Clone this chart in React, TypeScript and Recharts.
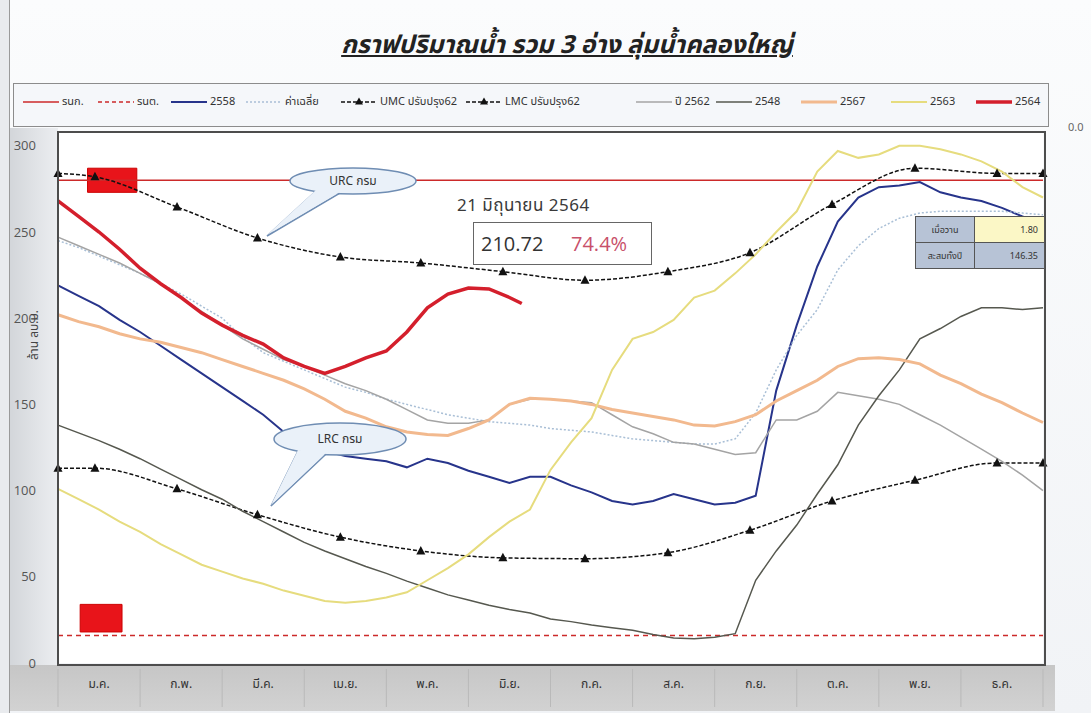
import React from 'react';
import { LineChart, Line, XAxis, YAxis, ReferenceLine, ReferenceArea } from 'recharts';

const W = 1091;
const H = 713;
const MARGIN = { top: 132, right: 48, bottom: 0, left: 0 };
const Y_AXIS_W = 58;
const X_AXIS_H = 50;
const PLOT_W = W - MARGIN.right - Y_AXIS_W;
const MONTH_W = PLOT_W / 12;
const THAI = '"Noto Sans Thai", "Loma", "Garuda", "Tahoma", "Noto Sans", sans-serif';

const monthLabels = ['ม.ค.', 'ก.พ.', 'มี.ค.', 'เม.ย.', 'พ.ค.', 'มิ.ย.', 'ก.ค.', 'ส.ค.', 'ก.ย.', 'ต.ค.', 'พ.ย.', 'ธ.ค.'];
const yTicks = [0, 50, 100, 150, 200, 250, 300];

// months from 1 ม.ค. (0) to 31 ธ.ค. (12), read every quarter month
const gridMonths = Array.from({ length: 49 }, (_, i) => i / 4);
const months2564 = [0, 0.25, 0.5, 0.75, 1, 1.25, 1.5, 1.75, 2, 2.25, 2.5, 2.75, 3, 3.25, 3.5, 3.75, 4, 4.25, 4.5, 4.75, 5, 5.25, 5.5, 5.65];
const markerMonths = [0, 0.45, 1.45, 2.43, 3.44, 4.42, 5.42, 6.42, 7.43, 8.43, 9.43, 10.44, 11.44, 12];

// ล้าน ลบ.ม.
const upperRule = 280;
const lowerRule = 16;
const v2558 = [219, 213, 207, 199, 192, 184, 176, 168, 160, 152, 144, 134, 128, 123, 120, 118.5, 117, 113.5, 118.5, 116, 111.5, 108, 104.5, 108, 108, 103, 99, 94, 92, 94, 98, 95, 92, 93, 97, 158, 196, 230, 256, 270, 276, 277, 279, 273, 270, 268, 264, 259, 255];
const vAvg = [245, 241, 236, 231, 226, 220, 214, 207, 200, 189, 180, 175, 170, 165, 160, 157, 153, 150, 147, 144, 142, 140, 139, 138, 136, 135, 134, 132, 130, 129, 128, 127, 127, 130, 145, 170, 190, 205, 228, 242, 252, 258, 261, 262, 262, 262, 262, 261, 260];
const vUmc = [284, 282, 264.5, 246.5, 235.5, 232, 227, 222, 227, 238, 266, 287, 284, 284];
const vLmc = [113, 113, 101, 86, 73, 65, 61, 60.5, 64, 77, 94, 106, 116, 116];
const v2562 = [247, 242, 237, 232, 226, 220, 212, 204, 196, 188, 182, 176, 172, 167, 162, 158, 153, 147, 141, 139, 139, 141, 150, 153, 153, 152, 151, 144, 137, 133, 128, 127, 124, 121, 122, 141, 141, 146, 157, 155, 153, 150, 144, 138, 131, 124, 117, 109, 100];
const v2548 = [138, 133.5, 129, 124, 118.5, 112.5, 106.5, 100.5, 95, 88, 82, 76, 70, 65, 60.5, 56, 52, 47.5, 43.5, 39.5, 36.5, 33.5, 31, 29, 25.5, 24, 22, 20.5, 19, 16.5, 14.5, 14, 15, 17, 48, 65, 80, 98, 115, 138, 155, 170, 188, 194, 201, 206, 206, 205, 206];
const v2567 = [202, 198, 195, 191, 188, 186, 183, 180, 176, 172, 168, 164, 159, 153, 146, 142, 137, 134, 132.5, 132, 136, 141, 150, 153.5, 153, 152, 150, 147, 145, 143, 141, 138, 137.5, 140, 144, 152, 158, 164, 172, 176.5, 177, 176, 173.5, 167, 162, 156, 151, 145, 139.5];
const v2563 = [101, 95, 89, 82, 76, 69, 63, 57, 53, 49, 46, 42, 39, 36, 35, 36, 38, 41, 48, 55, 63, 73, 82, 89, 112, 128, 142, 170, 188, 192, 199, 212, 216, 226, 237, 250, 262, 285, 297, 293, 295, 300, 300, 298, 295, 291, 285, 276, 270];
const v2564 = [268, 259, 250, 240, 229, 220, 212, 203, 196, 190, 185, 177, 172, 168, 172, 177, 181, 192, 206, 214, 217.5, 217, 212, 208.5];

// red marker boxes near the rule lines
const upperBox = { x1: 0.36, x2: 0.96, y1: 273, y2: 287 };
const lowerBox = { x1: 0.27, x2: 0.78, y1: 18, y2: 34 };

const toPts = (ms: number[], vs: number[]) => ms.map((m, i) => ({ m, v: vs[i] }));

const Triangle = (props: any) => {
  const { cx, cy, index } = props;
  if (cx == null || cy == null) return <g key={index} />;
  return <path key={index} d={`M${cx},${cy - 5}L${cx + 4.5},${cy + 3.5}L${cx - 4.5},${cy + 3.5}Z`} fill="#111" />;
};

const series = [
  { name: '2558', data: toPts(gridMonths, v2558), color: '#27348b', width: 2 },
  { name: 'ค่าเฉลี่ย', data: toPts(gridMonths, vAvg), color: '#a9bfd6', width: 1.5, dash: '2 2' },
  { name: 'UMC ปรับปรุง62', data: toPts(markerMonths, vUmc), color: '#111', width: 1.5, dash: '4 2', marker: true },
  { name: 'LMC ปรับปรุง62', data: toPts(markerMonths, vLmc), color: '#111', width: 1.5, dash: '4 2', marker: true },
  { name: 'ปี 2562', data: toPts(gridMonths, v2562), color: '#a4a4a4', width: 1.5 },
  { name: '2548', data: toPts(gridMonths, v2548), color: '#56584f', width: 1.5 },
  { name: '2567', data: toPts(gridMonths, v2567), color: '#f2b98e', width: 3 },
  { name: '2563', data: toPts(gridMonths, v2563), color: '#e6dc7e', width: 2 },
  { name: '2564', data: toPts(months2564, v2564), color: '#d41f2c', width: 3.5 },
];

const legendItems = [
  { name: 'รนก.', color: '#cc2a2a', width: 1.5 },
  { name: 'รนต.', color: '#cc2a2a', width: 1.5, dash: '4 3' },
  ...series,
];
const legendSlots = [75, 73, 75, 95, 125, 170, 80, 85, 90, 85, 70];

const MonthTick = (props: any) => {
  const { x, y, payload } = props;
  const i = Math.floor(payload.value);
  return (
    <g>
      <line x1={x - MONTH_W / 2} x2={x - MONTH_W / 2} y1={y - 2} y2={y + 36} stroke="#b9b9b9" />
      {i === 11 && <line x1={x + MONTH_W / 2} x2={x + MONTH_W / 2} y1={y - 2} y2={y + 36} stroke="#b9b9b9" />}
      <text x={x} y={y} dy={17} textAnchor="middle" fill="#333" fontSize={12} fontFamily={THAI}>
        {monthLabels[i]}
      </text>
    </g>
  );
};

const Callout = ({ cx, cy, rx, ry, tail, label }: any) => {
  const pts = tail.map((p: number[]) => p.join(',')).join(' ');
  return (
    <g>
      <polygon points={pts} fill="#eaf1f9" stroke="#6f8db3" strokeWidth={1.5} />
      <ellipse cx={cx} cy={cy} rx={rx} ry={ry} fill="#eaf1f9" stroke="#6f8db3" strokeWidth={1.5} />
      <polygon points={pts} fill="#eaf1f9" transform={`translate(0,-1)`} />
      <text x={cx} y={cy} dy={4} textAnchor="middle" fontSize={12} fill="#333" fontFamily={THAI}>
        {label}
      </text>
    </g>
  );
};

export default function App() {
  const plotTop = MARGIN.top;
  const plotBottom = H - X_AXIS_H;
  return (
    <div
      style={{
        position: 'relative',
        width: W,
        height: H,
        overflow: 'hidden',
        background: 'linear-gradient(180deg, #fbfcfd 0%, #f1f3f6 100%)',
        fontFamily: THAI,
      }}
    >
      <style>{'body{margin:0}'}</style>
      <div style={{ position: 'absolute', left: 0, top: 0, width: 9, height: H, background: '#e9ebee', borderRight: '1px solid #9a9a9a' }} />
      <div
        style={{
          position: 'absolute',
          left: 10,
          top: plotTop - 4,
          width: Y_AXIS_W - 10,
          height: plotBottom - plotTop + 6,
          background: 'linear-gradient(90deg, #d3d6da 0%, #eceef1 100%)',
        }}
      />
      <div style={{ position: 'absolute', left: 10, top: plotBottom + 2, width: 1045, height: 46, background: 'linear-gradient(180deg, #c6c6c6 0%, #d2d2d2 100%)' }} />
      <div style={{ position: 'absolute', left: Y_AXIS_W, top: plotTop, width: PLOT_W, height: plotBottom - plotTop, background: '#fff' }} />

      <div
        style={{
          position: 'absolute',
          left: 267,
          top: 26,
          width: 600,
          textAlign: 'center',
          fontSize: 25,
          fontWeight: 'bold',
          fontStyle: 'italic',
          textDecoration: 'underline',
          color: '#222',
        }}
      >
        กราฟปริมาณน้ำ รวม 3 อ่าง ลุ่มน้ำคลองใหญ่
      </div>

      <div
        style={{
          position: 'absolute',
          left: 13,
          top: 83,
          width: 1036,
          height: 44,
          boxSizing: 'border-box',
          border: '1px solid #8c8c8c',
          background: '#f5f7fa',
          display: 'flex',
          alignItems: 'flex-start',
          paddingTop: 9,
          paddingLeft: 8,
          fontSize: 11,
          color: '#333',
        }}
      >
        {legendItems.map((s: any, i: number) => (
          <div key={s.name} style={{ display: 'flex', alignItems: 'center', width: legendSlots[i], flexShrink: 0 }}>
            <svg width={38} height={14}>
              <line x1={1} x2={37} y1={7} y2={7} stroke={s.color} strokeWidth={s.width} strokeDasharray={s.dash} />
              {s.marker && <path d="M19,2.5L23,9.5L15,9.5Z" fill="#111" />}
            </svg>
            <span style={{ marginLeft: 2, whiteSpace: 'nowrap' }}>{s.name}</span>
          </div>
        ))}
      </div>
      <div style={{ position: 'absolute', left: 1068, top: 119, fontSize: 11, color: '#666' }}>0.0</div>

      <div style={{ position: 'absolute', left: 0, top: 0 }}>
        <LineChart width={W} height={H} margin={MARGIN}>
          <XAxis
            dataKey="m"
            type="number"
            domain={[0, 12]}
            ticks={monthLabels.map((_, i) => i + 0.5)}
            interval={0}
            tick={<MonthTick />}
            axisLine={false}
            tickLine={false}
            height={X_AXIS_H}
            allowDuplicatedCategory={false}
          />
          <YAxis
            domain={[0, 308]}
            ticks={yTicks}
            width={Y_AXIS_W}
            axisLine={false}
            tickLine={false}
            tickMargin={16}
            allowDataOverflow
            tick={{ fill: '#555', fontSize: 13, fontFamily: '"Open Sans", sans-serif' }}
          />
          <ReferenceLine y={upperRule} stroke="#cc2a2a" strokeWidth={1.5} />
          <ReferenceLine y={lowerRule} stroke="#cc2a2a" strokeWidth={1.5} strokeDasharray="5 4" />
          {series.map((s: any) => (
            <Line
              key={s.name}
              data={s.data}
              dataKey="v"
              name={s.name}
              type={s.marker ? 'monotone' : 'linear'}
              stroke={s.color}
              strokeWidth={s.width}
              strokeDasharray={s.dash}
              dot={s.marker ? Triangle : false}
              activeDot={false}
              isAnimationActive={false}
            />
          ))}
          <ReferenceArea {...upperBox} fill="#e8141a" fillOpacity={1} stroke="#c00" />
          <ReferenceArea {...lowerBox} fill="#e8141a" fillOpacity={1} stroke="#c00" />
        </LineChart>
      </div>

      <div
        style={{
          position: 'absolute',
          left: Y_AXIS_W - 1,
          top: plotTop - 1,
          width: PLOT_W,
          height: plotBottom - plotTop,
          border: '2px solid #4d4d4d',
          boxSizing: 'content-box',
          pointerEvents: 'none',
        }}
      />

      <svg style={{ position: 'absolute', left: 0, top: 0 }} width={W} height={H}>
        <Callout cx={353} cy={181} rx={63} ry={13} label="URC กรม" tail={[[316, 191], [340, 193], [267, 236]]} />
        <Callout cx={340} cy={439} rx={66} ry={16} label="LRC กรม" tail={[[298, 451], [326, 454], [271, 506]]} />
      </svg>

      <div
        style={{
          position: 'absolute',
          left: 8,
          top: 335,
          transform: 'translate(-50%, -50%) rotate(-90deg)',
          marginLeft: 26,
          fontSize: 12,
          color: '#444',
          whiteSpace: 'nowrap',
        }}
      >
        ล้าน ลบ.ม.
      </div>

      <div style={{ position: 'absolute', left: 457, top: 193, fontSize: 17, color: '#3a3a3a', letterSpacing: 0.5 }}>21 มิถุนายน 2564</div>
      <div
        style={{
          position: 'absolute',
          left: 473,
          top: 222,
          width: 179,
          height: 43,
          boxSizing: 'border-box',
          border: '1px solid #666',
          background: '#fff',
          fontFamily: '"Open Sans", sans-serif',
          fontSize: 20,
        }}
      >
        <span style={{ position: 'absolute', left: 7, top: 7, color: '#333' }}>210.72</span>
        <span style={{ position: 'absolute', left: 97, top: 7, color: '#c8506a' }}>74.4%</span>
      </div>

      <table
        style={{
          position: 'absolute',
          left: 915,
          top: 216,
          borderCollapse: 'collapse',
          fontSize: 9,
          color: '#333',
        }}
      >
        <tbody>
          <tr style={{ height: 26 }}>
            <td style={{ width: 58, border: '1px solid #555', background: '#b7c3d6', textAlign: 'center', padding: 0 }}>เมื่อวาน</td>
            <td style={{ width: 62, border: '1px solid #555', background: '#fbf7c6', textAlign: 'right', paddingRight: 6 }}>1.80</td>
          </tr>
          <tr style={{ height: 26 }}>
            <td style={{ border: '1px solid #555', background: '#b7c3d6', textAlign: 'center', padding: 0 }}>สะสมทั้งปี</td>
            <td style={{ border: '1px solid #555', background: '#b7c3d6', textAlign: 'right', paddingRight: 6 }}>146.35</td>
          </tr>
        </tbody>
      </table>
    </div>
  );
}
